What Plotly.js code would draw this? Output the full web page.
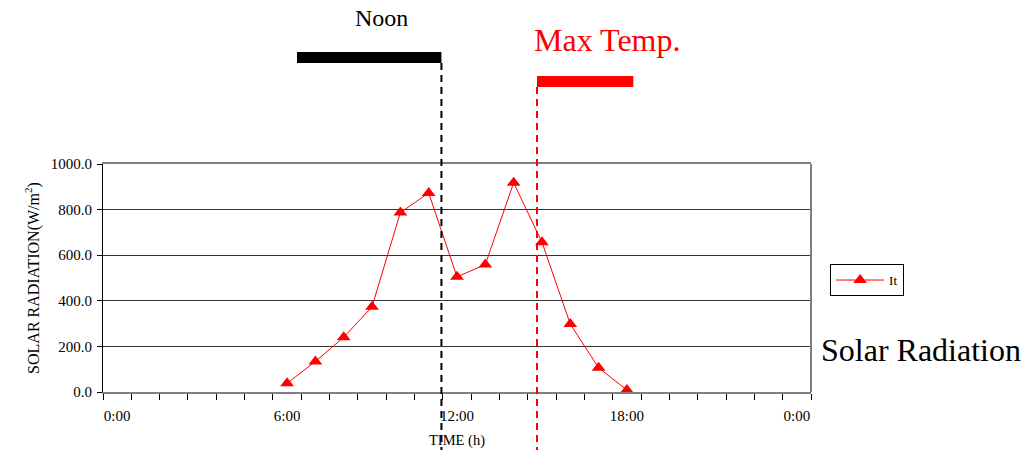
<!DOCTYPE html>
<html>
<head>
<meta charset="utf-8">
<script src="https://cdn.plot.ly/plotly-3.0.1.min.js"></script>
<style>html,body{margin:0;padding:0;background:#fff;}#chart{width:1033px;height:450px;}</style>
</head>
<body>
<div id="chart"></div>
<script>
// Data (hour of day -> solar radiation W/m2)
const hours = [6, 7, 8, 9, 10, 11, 12, 13, 14, 15, 16, 17, 18];
const radiation = [38, 134, 240, 374, 787, 873, 505, 559, 918, 657, 298, 106, 9];
const seriesName = 'It';
const xTickVals = [0, 6, 12, 18, 24];
const xTickText = ['0:00', '6:00', '12:00', '18:00', '0:00'];

const SERIF = 'Liberation Serif, Times New Roman, serif';

const trace = {
  x: hours, y: radiation, name: seriesName,
  type: 'scatter', mode: 'lines+markers',
  line: {color: '#ff0000', width: 1},
  marker: {symbol: 'triangle-up', size: 12, color: '#ff0000'}
};

const layout = {
  width: 1033, height: 450,
  margin: {l: 103, r: 222, t: 164, b: 58, pad: 0},
  paper_bgcolor: '#ffffff', plot_bgcolor: '#ffffff',
  font: {family: SERIF, color: '#000', size: 14},
  showlegend: true,
  legend: {
    x: 1.027, y: 0.561, xanchor: 'left', yanchor: 'top',
    bordercolor: '#000', borderwidth: 1, bgcolor: '#fff',
    font: {family: SERIF, size: 13, color: '#000'},
    itemwidth: 48, tracegroupgap: 0
  },
  xaxis: {
    range: [-0.5, 24.5], fixedrange: true,
    tickmode: 'array', tickvals: xTickVals, ticktext: xTickText,
    ticks: '', ticklabelstandoff: 9,
    tickfont: {family: SERIF, size: 15, color: '#000'},
    showgrid: false, zeroline: false,
    showline: true, linecolor: '#808080', linewidth: 2, mirror: true,
    minor: {tickmode: 'linear', tick0: -0.5, dtick: 1, ticks: 'outside', ticklen: 6, tickcolor: '#000', tickwidth: 1, showgrid: false},
    title: {text: 'TIME (h)', font: {family: SERIF, size: 14.5, color: '#000'}, standoff: 12}
  },
  yaxis: {
    range: [0, 1000], fixedrange: true,
    tickmode: 'linear', tick0: 0, dtick: 200, tickformat: '.1f',
    ticks: 'outside', ticklen: 5, tickcolor: '#000', tickwidth: 1,
    ticklabelstandoff: 2,
    tickfont: {family: SERIF, size: 15, color: '#000'},
    showgrid: true, gridcolor: '#333333', gridwidth: 1,
    zeroline: false, showline: true, linecolor: '#000', linewidth: 1,
    title: {text: 'SOLAR RADIATION(W/m<sup>2</sup>)', font: {family: SERIF, size: 16, color: '#000'}, standoff: 7}
  },
  shapes: [
    {type: 'line', xref: 'paper', yref: 'paper', x0: 1, x1: 1, y0: 0, y1: 1, line: {color: '#808080', width: 2}},
    {type: 'rect', xref: 'paper', yref: 'paper', x0: 0.274, x1: 0.478, y0: 1.443, y1: 1.491, fillcolor: '#000', line: {width: 0}},
    {type: 'line', xref: 'paper', yref: 'paper', x0: 0.478, x1: 0.478, y0: 1.443, y1: -0.26, line: {color: '#000', width: 2, dash: '7px,5px'}},
    {type: 'rect', xref: 'paper', yref: 'paper', x0: 0.613, x1: 0.749, y0: 1.338, y1: 1.386, fillcolor: '#ff0000', line: {width: 0}},
    {type: 'line', xref: 'paper', yref: 'paper', x0: 0.613, x1: 0.613, y0: 1.338, y1: -0.26, line: {color: '#ff0000', width: 2, dash: '7px,5px'}}
  ],
  annotations: [
    {text: 'Noon', xref: 'paper', yref: 'paper', x: 0.394, y: 1.640, xanchor: 'center', yanchor: 'middle', showarrow: false, font: {family: SERIF, size: 24, color: '#000'}},
    {text: 'Max Temp.', xref: 'paper', yref: 'paper', x: 0.712, y: 1.544, xanchor: 'center', yanchor: 'middle', showarrow: false, font: {family: SERIF, size: 32, color: '#ff0000'}},
    {text: 'Solar Radiation', xref: 'paper', yref: 'paper', x: 1.155, y: 0.184, xanchor: 'center', yanchor: 'middle', showarrow: false, font: {family: SERIF, size: 32, color: '#000'}}
  ]
};

Plotly.newPlot('chart', [trace], layout, {displayModeBar: false, staticPlot: true});
</script>
</body>
</html>
